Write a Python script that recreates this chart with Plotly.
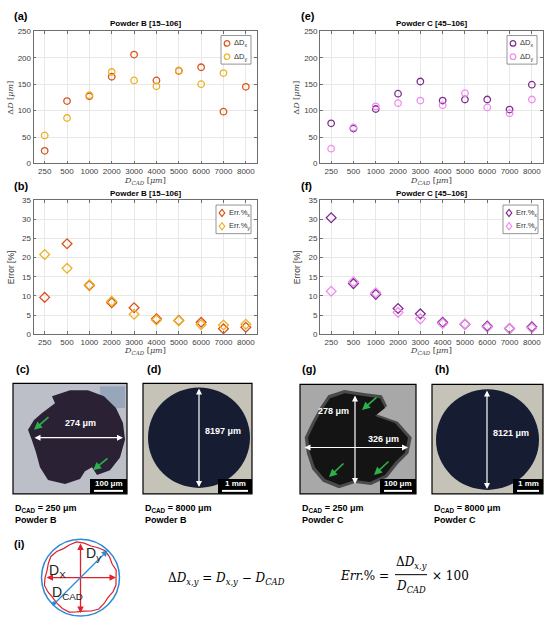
import numpy as np
import plotly.graph_objects as go

W, H = 550, 625  # page size in px

# --- data ---
d_cad = ["250", "500", "1000", "2000", "3000", "4000", "5000", "6000", "7000", "8000"]

# Powder B [15-106]
dDx_B = [24, 118, 127, 164, 206, 157, 175, 182, 98, 145]
dDy_B = [53, 86, 129, 173, 157, 146, 176, 150, 171, 208]
errx_B = [9.6, 23.6, 12.7, 8.2, 6.9, 4.0, 3.6, 3.1, 1.4, 1.8]
erry_B = [20.8, 17.2, 12.9, 8.6, 5.2, 3.7, 3.5, 2.5, 2.4, 2.6]

# Powder C [45-106]
dDx_C = [76, 66, 103, 132, 155, 119, 121, 121, 102, 149]
dDy_C = [28, 68, 108, 114, 119, 110, 133, 106, 95, 121]
errx_C = [30.4, 13.2, 10.4, 6.7, 5.3, 3.1, 2.6, 2.1, 1.5, 1.9]
erry_C = [11.2, 13.7, 10.8, 5.7, 4.0, 2.8, 2.6, 1.8, 1.4, 1.6]

c_Bx, c_By = "#D95319", "#EDB120"
c_Cx, c_Cy = "#7E2F8E", "#F08AF0"

fx = lambda x: x / W
fy = lambda y: 1 - y / H


def ppath(pts):
    # polygon in pixels -> svg path in paper units
    s = "M " + " L ".join("%.4f,%.4f" % (fx(x), fy(y)) for x, y in pts)
    return s + " Z"


fig = go.Figure()

# scatter panels
def add_pair(xa, ya, y1, y2, c1, c2, n1, n2, sym, sz):
    fig.add_trace(go.Scatter(x=d_cad, y=y1, mode="markers", name=n1, xaxis=xa, yaxis=ya, showlegend=False,
                             marker=dict(symbol=sym, size=sz, color=c1, line=dict(color=c1, width=1.3))))
    fig.add_trace(go.Scatter(x=d_cad, y=y2, mode="markers", name=n2, xaxis=xa, yaxis=ya, showlegend=False,
                             marker=dict(symbol=sym, size=sz, color=c2, line=dict(color=c2, width=1.3))))

add_pair("x", "y", dDx_B, dDy_B, c_Bx, c_By, "ΔDx", "ΔDy", "circle-open", 6.5)
add_pair("x2", "y2", errx_B, erry_B, c_Bx, c_By, "Err.%x", "Err.%y", "diamond-open", 7.5)
add_pair("x3", "y3", dDx_C, dDy_C, c_Cx, c_Cy, "ΔDx", "ΔDy", "circle-open", 6.5)
add_pair("x4", "y4", errx_C, erry_C, c_Cx, c_Cy, "Err.%x", "Err.%y", "diamond-open", 7.5)

tickfont = dict(family="Liberation Sans, Arial", size=8, color="#404040")
ax_common = dict(showline=True, linecolor="#6e6e6e", linewidth=0.8, mirror="ticks", ticks="inside",
                 ticklen=3, tickcolor="#6e6e6e", showgrid=True, gridcolor="#e8e8e8", zeroline=False,
                 tickfont=tickfont)

top = [fy(161.8), fy(27.7)]
bot = [fy(335), fy(199)]
left = [fx(33.5), fx(257)]
right = [fx(320), fx(543)]

layout = dict(width=W, height=H, margin=dict(l=0, r=0, t=0, b=0), plot_bgcolor="white",
              paper_bgcolor="white", showlegend=False)
for i, (xd, yd, yr, dt) in enumerate([(left, top, [0, 250], 50), (left, bot, [0, 35], 5),
                                       (right, top, [0, 250], 50), (right, bot, [0, 35], 5)]):
    k = "" if i == 0 else str(i + 1)
    layout["xaxis" + k] = dict(ax_common, domain=xd, anchor="y" + k, type="category",
                               range=[-0.5, 9.5])
    layout["yaxis" + k] = dict(ax_common, domain=yd, anchor="x" + k, range=yr, dtick=dt)
fig.update_layout(**layout)

ann = []
def txt(x, y, s, size=8, bold=False, color="black", family="Liberation Sans, Arial", xanchor="center",
        angle=0, align="center"):
    if bold:
        s = "<b>" + s + "</b>"
    ann.append(dict(x=fx(x), y=fy(y), xref="paper", yref="paper", text=s, showarrow=False,
                    font=dict(size=size, color=color, family=family), xanchor=xanchor,
                    yanchor="middle", textangle=angle, align=align))

shapes = []
def rect(x0, y0, x1, y1, fill, line=None, lw=1):
    shapes.append(dict(type="rect", xref="paper", yref="paper", x0=fx(x0), x1=fx(x1), y0=fy(y1), y1=fy(y0),
                       fillcolor=fill, line=dict(color=line or fill, width=lw if line else 0), layer="above"))

def arrow(x0, y0, x1, y1, color, both=False, w=1.2, head=2, size=1):
    ann.append(dict(x=fx(x1), y=fy(y1), xref="paper", yref="paper", ax=x0 - x1, ay=y0 - y1,
                    axref="pixel", ayref="pixel", text="", showarrow=True, arrowcolor=color,
                    arrowwidth=w, arrowhead=head, startarrowhead=head, arrowsize=size,
                    startarrowsize=size, arrowside="end+start" if both else "end"))

# legend boxes (drawn by hand, MATLAB style compact)
def legend_box(x0, y0, x1, y1, c1, c2, l1, l2, sym):
    rect(x0, y0, x1, y1, "white", "#7a7a7a", 0.8)
    for j, (c, l) in enumerate([(c1, l1), (c2, l2)]):
        yy = y0 + 8 + j * 13.5
        mx = x0 + 6
        if sym == "circle":
            shapes.append(dict(type="circle", xref="paper", yref="paper", x0=fx(mx - 2.8), x1=fx(mx + 2.8),
                               y0=fy(yy + 2.8), y1=fy(yy - 2.8), line=dict(color=c, width=1.2), layer="above"))
        else:
            shapes.append(dict(type="path", xref="paper", yref="paper",
                               path=ppath([(mx, yy - 3.6), (mx + 2.8, yy), (mx, yy + 3.6), (mx - 2.8, yy)]),
                               line=dict(color=c, width=1.2), layer="above"))
        txt(x0 + 11, yy, l, size=7.5, color="#303030", xanchor="left")

legend_box(221, 32, 251, 61, c_Bx, c_By, "ΔD<sub>x</sub>", "ΔD<sub>y</sub>", "circle")
legend_box(216, 204, 251, 233, c_Bx, c_By, "Err.%<sub>x</sub>", "Err.%<sub>y</sub>", "diamond")
legend_box(507, 32, 537, 61, c_Cx, c_Cy, "ΔD<sub>x</sub>", "ΔD<sub>y</sub>", "circle")
legend_box(503, 204, 538, 233, c_Cx, c_Cy, "Err.%<sub>x</sub>", "Err.%<sub>y</sub>", "diamond")

# panel letters
for s, x, y in [("(a)", 12, 12), ("(b)", 12, 185), ("(e)", 299, 12), ("(f)", 299, 185),
                ("(c)", 14, 370), ("(d)", 145, 370), ("(g)", 300, 370), ("(h)", 433, 370)]:
    txt(x, y, s, size=11, bold=True, xanchor="left")
txt(12, 548, "(i)", size=11, bold=True, xanchor="left")

# panel titles
txt(145, 20, "Powder B [15–106]", size=8, bold=True)
txt(145, 192, "Powder B [15–106]", size=8, bold=True)
txt(431, 20, "Powder C [45–106]", size=8, bold=True)
txt(431, 192, "Powder C [45–106]", size=8, bold=True)

serif = "DejaVu Serif, Liberation Serif"
xlab = "<i>D</i><sub><i>CAD</i></sub> [<i>μm</i>]"
for x in (145, 431):
    txt(x, 180, xlab, size=8, color="#404040", family=serif)
    txt(x, 352, xlab, size=8, color="#404040", family=serif)
for x in (11, 297):
    txt(x, 95, "Δ<i>D</i> [<i>μm</i>]", size=8, color="#404040", family=serif, angle=-90)
    txt(x, 267, "Error [%]", size=8.5, color="#404040", angle=-90)

# --- photo (c) ---
rect(13, 385, 127, 497, "#bcbfc7")
rect(100, 388, 125, 410, "#98a6bb")
blob_c = [(58, 396), (70, 392), (88, 392), (104, 398), (116, 410), (123, 425), (125, 442), (120, 460),
          (110, 473), (97, 478), (92, 470), (85, 474), (80, 482), (65, 487), (48, 483), (40, 470),
          (36, 455), (32, 443), (28, 432), (34, 422), (42, 415), (55, 405), (52, 398)]
shapes.append(dict(type="path", xref="paper", yref="paper", path=ppath(blob_c), fillcolor="#2a2234",
                   line=dict(width=0), layer="above"))
rect(13, 385, 127, 497, "rgba(0,0,0,0)", "black", 1.2)
arrow(33, 440, 123, 440, "white", both=True)
txt(80, 425, "274 μm", size=9, bold=True, color="white")
arrow(50, 418, 34, 432, "#2bb24a", w=1.6)
arrow(109, 460, 93, 473, "#2bb24a", w=1.6)

# --- photo (d) ---
rect(143, 385, 252, 497, "#c5c3b8")
shapes.append(dict(type="circle", xref="paper", yref="paper", x0=fx(148), x1=fx(250), y0=fy(491), y1=fy(389),
                   fillcolor="#161d33", line=dict(width=0), layer="above"))
rect(143, 385, 252, 497, "rgba(0,0,0,0)", "black", 1.2)
arrow(199, 390, 199, 490, "white", both=True)
txt(223, 433, "8197 μm", size=9, bold=True, color="white")

# --- photo (g) ---
rect(300, 386, 416, 497, "#a8a8a8")
blob_g = [(330, 400), (345, 395), (365, 398), (380, 400), (385, 410), (375, 418), (395, 425), (408, 440),
          (405, 455), (395, 465), (385, 478), (370, 485), (355, 483), (340, 488), (325, 482), (315, 470),
          (310, 455), (308, 440), (315, 425), (322, 412)]
blob_g2 = [(355 + 1.07 * (x - 355), 442 + 1.07 * (y - 442)) for x, y in blob_g]
shapes.append(dict(type="path", xref="paper", yref="paper", path=ppath(blob_g2), fillcolor="#4a4a4a",
                   line=dict(width=0), layer="above"))
shapes.append(dict(type="path", xref="paper", yref="paper", path=ppath(blob_g), fillcolor="#141414",
                   line=dict(width=0), layer="above"))
rect(300, 386, 416, 497, "rgba(0,0,0,0)", "black", 1.2)
arrow(355, 397, 355, 487, "white", both=True)
arrow(303, 450, 408, 450, "white", both=True)
txt(333, 413, "278 μm", size=9, bold=True, color="white")
txt(383, 441, "326 μm", size=9, bold=True, color="white")
arrow(378, 398, 362, 412, "#2bb24a", w=1.6)
arrow(345, 465, 329, 480, "#2bb24a", w=1.6)
arrow(390, 463, 374, 478, "#2bb24a", w=1.6)

# --- photo (h) ---
rect(432, 386, 543, 497, "#c5c3b8")
shapes.append(dict(type="circle", xref="paper", yref="paper", x0=fx(436), x1=fx(539), y0=fy(493), y1=fy(391),
                   fillcolor="#161d33", line=dict(width=0), layer="above"))
rect(432, 386, 543, 497, "rgba(0,0,0,0)", "black", 1.2)
arrow(487, 392, 487, 492, "white", both=True)
txt(511, 435, "8121 μm", size=9, bold=True, color="white")

# scale bars
for x0, x1, s in [(90, 127, "100 μm"), (218, 252, "1 mm"), (380, 416, "100 μm"), (513, 543, "1 mm")]:
    rect(x0, 482, x1, 497, "black")
    rect(x0 + 4, 493, x1 - 4, 495, "white")
    txt((x0 + x1) / 2, 487, s, size=8, bold=True, color="white")

# captions
for x, d, p in [(13, "250", "B"), (143, "8000", "B"), (300, "250", "C"), (432, "8000", "C")]:
    txt(x, 517, "D<sub>CAD</sub> = %s μm<br>Powder %s" % (d, p), size=9, bold=True, xanchor="left",
        align="left")

# --- (i) schematic ---
cx, cy, r = 80.5, 582, 39
shapes.append(dict(type="circle", xref="paper", yref="paper", x0=fx(cx - r), x1=fx(cx + r), y0=fy(cy + r),
                   y1=fy(cy - r), line=dict(color="#2a8ad6", width=1.5), layer="above"))
wob = [35.5, 36.5, 34.5, 35.8, 36.8, 35.0, 33.8, 35.2, 36.4, 35.0, 34.0, 35.6, 36.6, 35.2, 34.2, 35.4,
       36.9, 35.6, 34.4, 35.1, 36.2, 36.8, 35.0, 34.2, 35.6, 36.7, 35.3, 34.1, 35.5, 36.3]
ang = np.linspace(0, 2 * np.pi, len(wob), endpoint=False)
pts = [(cx + rr * np.cos(a), cy - rr * np.sin(a)) for rr, a in zip(wob, ang)]
shapes.append(dict(type="path", xref="paper", yref="paper", path=ppath(pts), fillcolor="rgba(0,0,0,0)",
                   line=dict(color="#e0202a", width=1.2), layer="above"))
arrow(45, cy, 116, cy, "#e0202a", both=True, w=1.3)
arrow(cx, 547, cx, 618, "#e0202a", both=True, w=1.3)
arrow(54, 608, 108, 554, "#2a8ad6", w=1.3)
shapes.append(dict(type="circle", xref="paper", yref="paper", x0=fx(52), x1=fx(56), y0=fy(610), y1=fy(606),
                   fillcolor="#2a8ad6", line=dict(width=0), layer="above"))
txt(93, 558, "D<sub>y</sub>", size=14, color="#222")
txt(57, 575, "D<sub>X</sub>", size=14, color="#222")
txt(67, 598, "D<sub>CAD</sub>", size=14, color="#222")

mfont = "DejaVu Serif, Liberation Serif"
txt(226, 583, "Δ<i>D</i><sub><i>x,y</i></sub> = <i>D</i><sub><i>x,y</i></sub> − <i>D</i><sub><i>CAD</i></sub>",
    size=12, family=mfont)
txt(338, 580, "<i>Err.</i>% =", size=12, family=mfont, xanchor="left")
txt(411, 567, "Δ<i>D</i><sub><i>x,y</i></sub>", size=12, family=mfont)
txt(411, 592, "<i>D</i><sub><i>CAD</i></sub>", size=12, family=mfont)
shapes.append(dict(type="line", xref="paper", yref="paper", x0=fx(395), x1=fx(427), y0=fy(579), y1=fy(579),
                   line=dict(color="black", width=1), layer="above"))
txt(430, 580, "× 100", size=12, family=mfont, xanchor="left")

fig.update_layout(annotations=ann, shapes=shapes)
fig.write_html("out.html", config={"displayModeBar": False},
               post_script="document.body.style.margin='0';document.body.style.overflow='hidden';")
